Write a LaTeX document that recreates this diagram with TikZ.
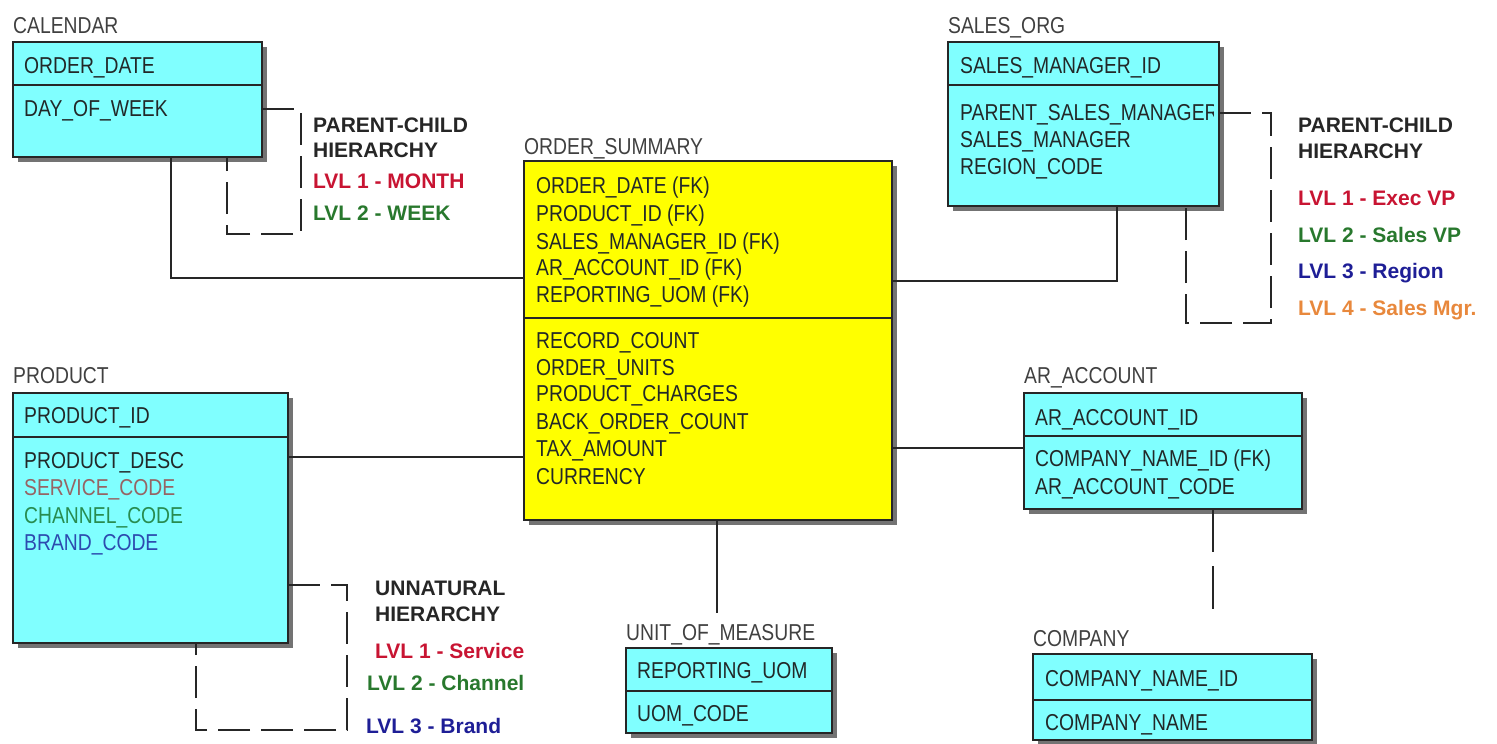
\documentclass[tikz,border=0pt]{standalone}
\usepackage{fontspec}
\setmainfont{Liberation Sans}
\newfontfamily\fldfont{Liberation Sans}[FakeStretch=0.84]
\usetikzlibrary{shadows}
\definecolor{cyanbox}{RGB}{128,255,255}
\definecolor{yelbox}{RGB}{255,255,0}
\definecolor{fldtxt}{RGB}{34,40,40}
\definecolor{ttltxt}{RGB}{64,64,64}
\definecolor{lvred}{RGB}{200,20,50}
\definecolor{lvgreen}{RGB}{40,120,45}
\definecolor{lvblue}{RGB}{30,30,150}
\definecolor{lvorange}{RGB}{232,136,60}
\definecolor{fsvc}{RGB}{150,100,100}
\definecolor{fchn}{RGB}{40,140,80}
\definecolor{fbrd}{RGB}{45,75,175}
\tikzset{
  tbl/.style={draw=black!85, line width=1.6pt, fill=cyanbox, inner sep=0pt, outer sep=0pt, anchor=north west,
    drop shadow={shadow xshift=5pt, shadow yshift=-5pt, fill=black!55, opacity=1}},
  facttbl/.style={tbl, fill=yelbox},
  divl/.style={draw=black!85, line width=1.6pt},
  fld/.style={anchor=base west, inner sep=0pt, text=fldtxt, font=\fldfont\fontsize{23}{27}\selectfont},
  ttl/.style={anchor=base west, inner sep=0pt, text=ttltxt, font=\fldfont\fontsize{23}{27}\selectfont},
  lbl/.style={anchor=base west, inner sep=0pt, text=black!85, font=\bfseries\fontsize{21}{25}\selectfont},
  conn/.style={draw=black!85, line width=1.8pt},
  hier/.style={draw=black!85, line width=1.8pt, dash pattern=on 32pt off 11pt},
}
\begin{document}
\begin{tikzpicture}[x=1pt,y=-1pt]
\useasboundingbox (0,0) rectangle (1497,744);

% ---------- CALENDAR ----------
\node[ttl] (calt) at (13,33) {CALENDAR};
\node[tbl, minimum width=249pt, minimum height=115pt] (cal) at (13,42) {};
\draw[divl] ([yshift=-43pt]cal.north west) -- ([yshift=-43pt]cal.north east);
\node[fld] (cal1) at (24,73) {ORDER\_DATE};
\node[fld] (cal2) at (24,116) {DAY\_OF\_WEEK};

% ---------- SALES_ORG ----------
\node[ttl] (sot) at (948,33) {SALES\_ORG};
\node[tbl, minimum width=271pt, minimum height=164pt] (so) at (948,42) {};
\draw[divl] ([yshift=-43pt]so.north west) -- ([yshift=-43pt]so.north east);
\node[fld] (so1) at (960,73) {SALES\_MANAGER\_ID};
\begin{scope}
\clip (so.north west) rectangle ([xshift=-6pt]so.south east);
\node[fld] (so2) at (960,120) {PARENT\_SALES\_MANAGER};
\end{scope}
\node[fld] (so3) at (960,147) {SALES\_MANAGER};
\node[fld] (so4) at (960,174) {REGION\_CODE};

% ---------- ORDER_SUMMARY ----------
\node[ttl] (ost) at (524,154) {ORDER\_SUMMARY};
\node[facttbl, minimum width=368pt, minimum height=359pt] (os) at (524,161) {};
\draw[divl] ([yshift=-157pt]os.north west) -- ([yshift=-157pt]os.north east);
\node[fld] (os1) at (536,193) {ORDER\_DATE (FK)};
\node[fld] (os2) at (536,221) {PRODUCT\_ID (FK)};
\node[fld] (os3) at (536,249) {SALES\_MANAGER\_ID (FK)};
\node[fld] (os4) at (536,275) {AR\_ACCOUNT\_ID (FK)};
\node[fld] (os5) at (536,302) {REPORTING\_UOM (FK)};
\node[fld] (os6) at (536,348) {RECORD\_COUNT};
\node[fld] (os7) at (536,375) {ORDER\_UNITS};
\node[fld] (os8) at (536,401) {PRODUCT\_CHARGES};
\node[fld] (os9) at (536,429) {BACK\_ORDER\_COUNT};
\node[fld] (os10) at (536,456) {TAX\_AMOUNT};
\node[fld] (os11) at (536,484) {CURRENCY};

% ---------- PRODUCT ----------
\node[ttl] (prodt) at (13,383) {PRODUCT};
\node[tbl, minimum width=275pt, minimum height=250pt] (prod) at (13,393) {};
\draw[divl] ([yshift=-44pt]prod.north west) -- ([yshift=-44pt]prod.north east);
\node[fld] (prod1) at (24,423) {PRODUCT\_ID};
\node[fld] (prod2) at (24,468) {PRODUCT\_DESC};
\node[fld, text=fsvc] (prod3) at (24,495) {SERVICE\_CODE};
\node[fld, text=fchn] (prod4) at (24,523) {CHANNEL\_CODE};
\node[fld, text=fbrd] (prod5) at (24,550) {BRAND\_CODE};

% ---------- AR_ACCOUNT ----------
\node[ttl] (art) at (1024,383) {AR\_ACCOUNT};
\node[tbl, minimum width=278pt, minimum height=116pt] (ar) at (1024,393) {};
\draw[divl] ([yshift=-43pt]ar.north west) -- ([yshift=-43pt]ar.north east);
\node[fld] (ar1) at (1035,425) {AR\_ACCOUNT\_ID};
\node[fld] (ar2) at (1035,466) {COMPANY\_NAME\_ID (FK)};
\node[fld] (ar3) at (1035,494) {AR\_ACCOUNT\_CODE};

% ---------- UNIT_OF_MEASURE ----------
\node[ttl] (uomt) at (626,640) {UNIT\_OF\_MEASURE};
\node[tbl, minimum width=206pt, minimum height=85pt] (uom) at (626,648) {};
\draw[divl] ([yshift=-43pt]uom.north west) -- ([yshift=-43pt]uom.north east);
\node[fld] (uom1) at (637,678) {REPORTING\_UOM};
\node[fld] (uom2) at (637,721) {UOM\_CODE};

% ---------- COMPANY ----------
\node[ttl] (cot) at (1033,646) {COMPANY};
\node[tbl, minimum width=279pt, minimum height=86pt] (co) at (1033,654) {};
\draw[divl] ([yshift=-46pt]co.north west) -- ([yshift=-46pt]co.north east);
\node[fld] (co1) at (1045,686) {COMPANY\_NAME\_ID};
\node[fld] (co2) at (1045,730) {COMPANY\_NAME};

% ---------- relationships ----------
\draw[conn] ([xshift=158pt]cal.south west) |- ([yshift=-117pt]os.north west);
\draw[conn] ([yshift=-120pt]os.north east) -| ([xshift=169pt]so.south west);
\draw[conn] ([yshift=-64pt]prod.north east) -- ([yshift=-296pt]os.north west);
\draw[conn] ([yshift=-287pt]os.north east) -- ([yshift=-55pt]ar.north west);
\draw[conn] ([xshift=193pt]os.south west) -- ([xshift=91pt,yshift=35pt]uom.north west);
\draw[conn, dash pattern=on 43pt off 14pt] ([xshift=189pt]ar.south west) -- ([xshift=180pt,yshift=32pt]co.north west);

% ---------- hierarchy (recursive) links ----------
\draw[hier] ([yshift=-67pt]cal.north east) -- ++(39,0) -- ++(0,125) -- ++(-74,0) -- ([xshift=214pt]cal.south west);
\draw[hier] ([yshift=-71pt]so.north east) -- ++(52,0) -- ++(0,210) -- ++(-85,0) -- ([xshift=238pt]so.south west);
\draw[hier] ([yshift=-192pt]prod.north east) -- ++(59,0) -- ++(0,145) -- ++(-151,0) -- ([xshift=183pt]prod.south west);

% ---------- hierarchy labels ----------
\node[lbl] (ch1) at (313,132) {PARENT-CHILD};
\node[lbl] (ch2) at (313,157) {HIERARCHY};
\node[lbl, text=lvred] (ch3) at (313,188) {LVL 1 - MONTH};
\node[lbl, text=lvgreen] (ch4) at (313,220) {LVL 2 - WEEK};

\node[lbl] (sh1) at (1298,132) {PARENT-CHILD};
\node[lbl] (sh2) at (1298,158) {HIERARCHY};
\node[lbl, text=lvred] (sh3) at (1298,205) {LVL 1 - Exec VP};
\node[lbl, text=lvgreen] (sh4) at (1298,242) {LVL 2 - Sales VP};
\node[lbl, text=lvblue] (sh5) at (1298,278) {LVL 3 - Region};
\node[lbl, text=lvorange] (sh6) at (1298,315) {LVL 4 - Sales Mgr.};

\node[lbl] (ph1) at (375,595) {UNNATURAL};
\node[lbl] (ph2) at (375,621) {HIERARCHY};
\node[lbl, text=lvred] (ph3) at (375,658) {LVL 1 - Service};
\node[lbl, text=lvgreen] (ph4) at (367,690) {LVL 2 - Channel};
\node[lbl, text=lvblue] (ph5) at (366,733) {LVL 3 - Brand};
\end{tikzpicture}
\end{document}
